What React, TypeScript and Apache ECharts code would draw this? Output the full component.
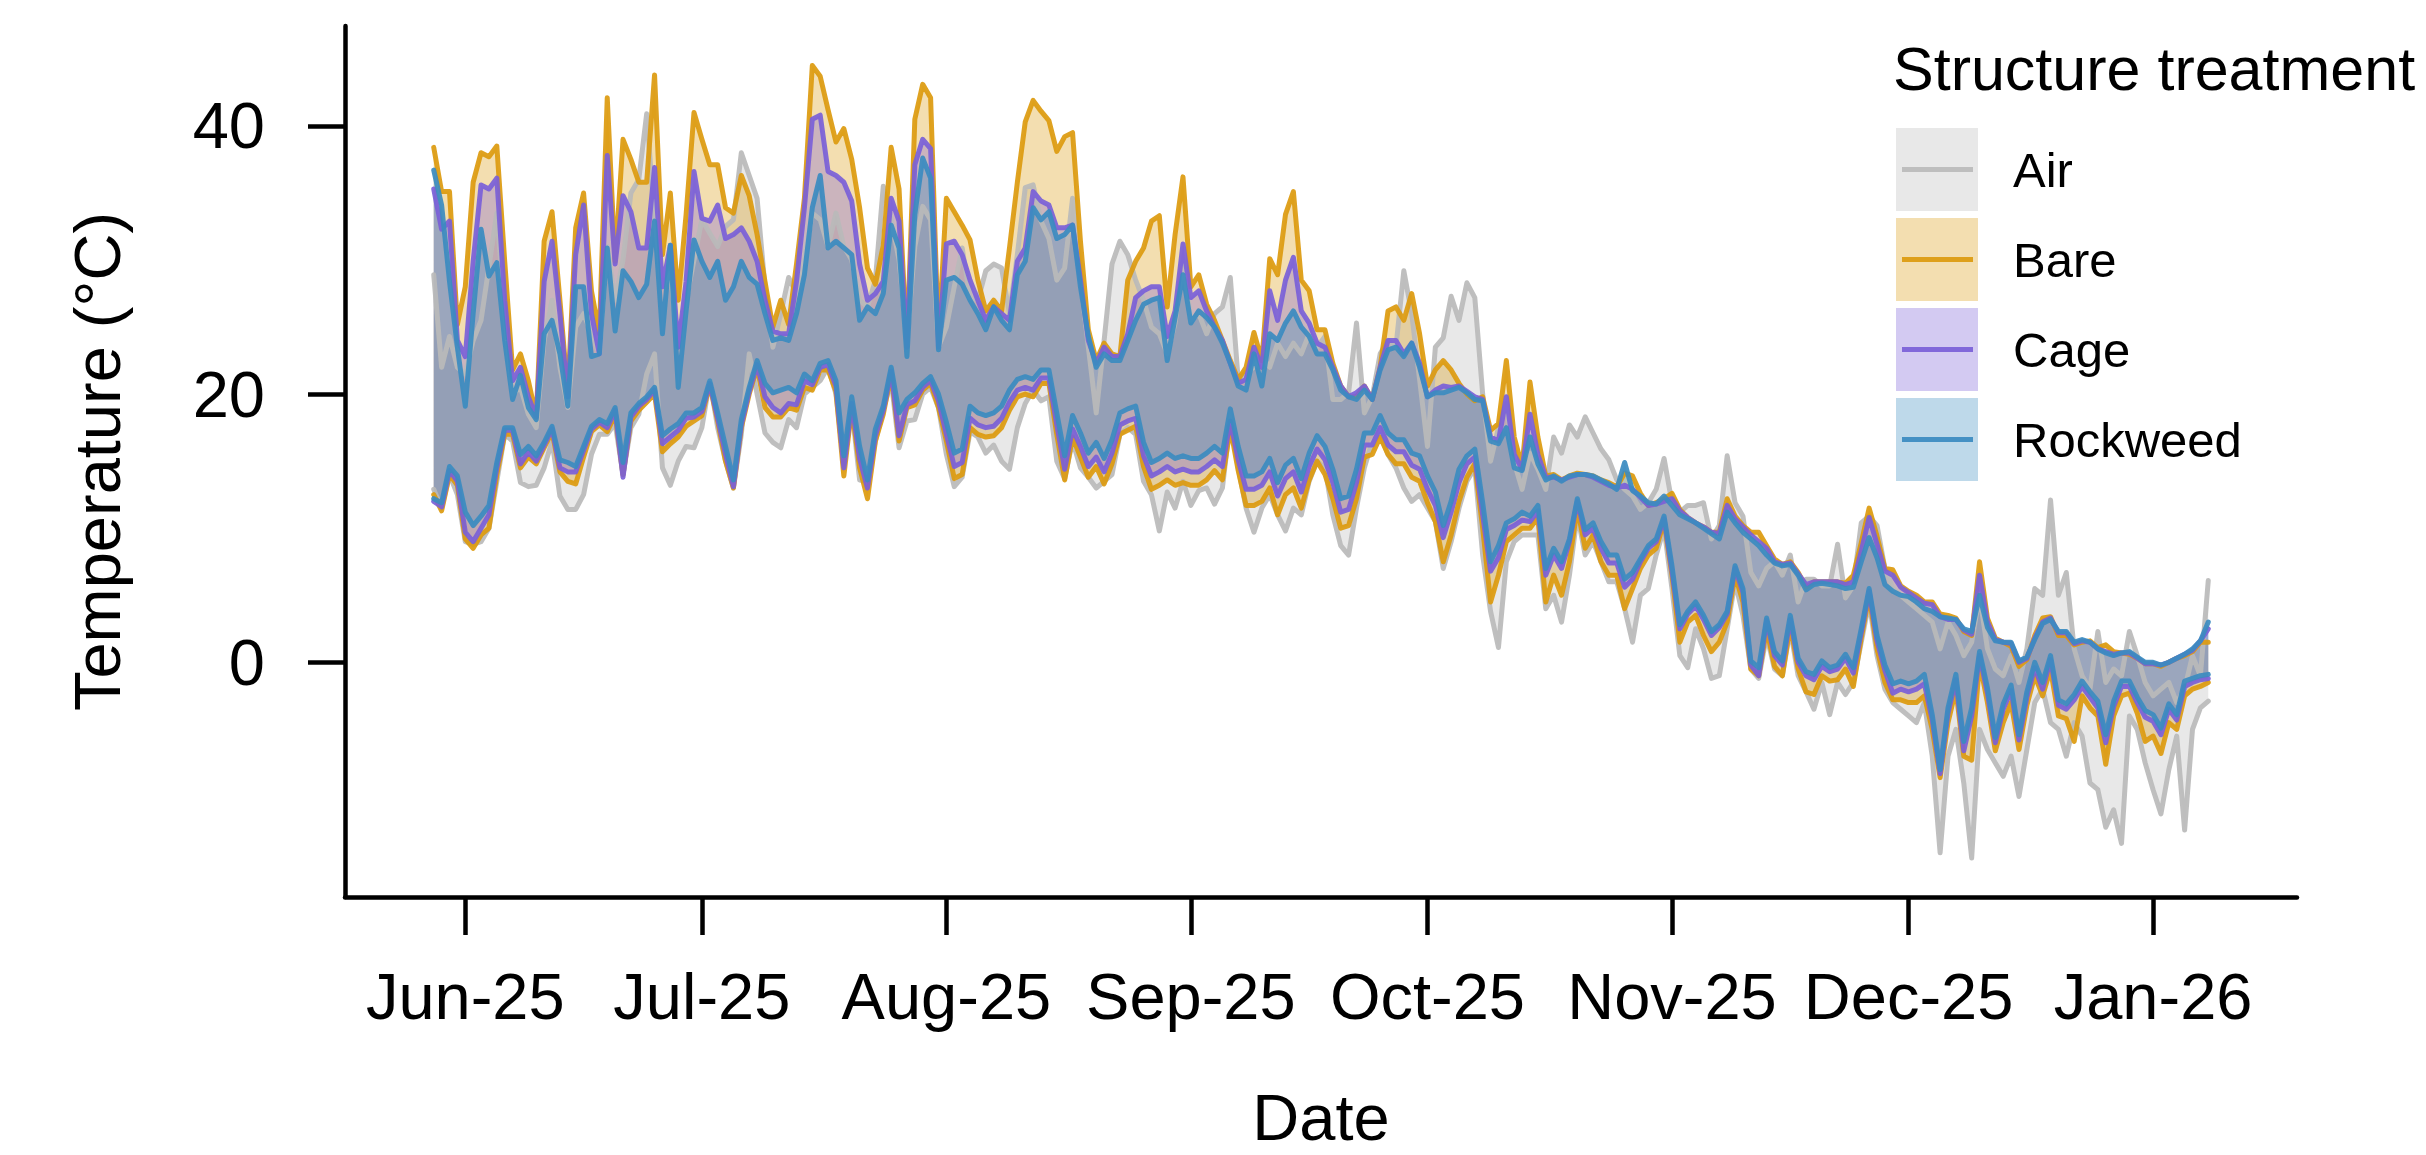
import React, { useEffect, useRef } from 'react';
import * as echarts from 'echarts';

// ---------- data ----------
const START_YEAR = 2025;
const START_MONTH = 4; // May (0-based)
const START_DAY = 28; // first daily record: 2025-05-28 (226 days)

const MONTH_TICKS = ['2025-06-01', '2025-07-01', '2025-08-01', '2025-09-01', '2025-10-01', '2025-11-01', '2025-12-01', '2026-01-01'];
const MONTH_LABELS = ['Jun-25', 'Jul-25', 'Aug-25', 'Sep-25', 'Oct-25', 'Nov-25', 'Dec-25', 'Jan-26'];
const Y_TICKS = [0, 20, 40];
const TREATMENTS = ['Air', 'Bare', 'Cage', 'Rockweed'];

const AIR_MAX = [
  28.9, 22.0, 24.3, 22.0, 21.5, 24.0, 25.5, 29.5, 33.5, 26.0,
  20.0, 20.5, 18.5, 17.5, 24.0, 27.0, 22.0, 19.0, 25.0, 26.0,
  24.5, 23.0, 31.0, 27.0, 30.0, 35.0, 36.0, 40.9, 33.0, 28.0,
  29.0, 24.0, 27.0, 30.0, 33.0, 32.0, 31.0, 32.5, 33.0, 38.0,
  36.3, 34.6, 28.0, 23.5, 26.0, 28.7, 27.5, 30.0, 33.5, 33.0,
  31.0, 33.5, 31.0, 30.0, 27.0, 26.5, 28.5, 35.5, 33.0, 30.0,
  24.0, 31.0, 34.0, 33.0, 23.5, 25.0, 28.0, 30.9, 27.2, 27.0,
  29.2, 29.7, 29.4, 26.0, 30.4, 35.4, 35.6, 32.9, 31.6, 28.5,
  29.4, 34.6, 28.5, 23.5, 18.6, 24.0, 29.7, 31.4, 30.4, 28.5,
  27.0, 25.0, 24.5, 23.0, 25.3, 29.9, 25.5, 26.0, 24.5, 26.0,
  26.5, 28.7, 21.1, 21.6, 22.0, 22.8, 22.0, 23.8, 22.8, 23.8,
  23.0, 24.5, 23.5, 24.3, 19.6, 19.6, 20.1, 25.3, 18.6, 19.8,
  23.0, 24.0, 23.5, 29.2, 26.0, 21.1, 16.1, 23.5, 24.2, 27.3,
  25.5, 28.3, 27.2, 20.0, 15.0, 17.5, 19.3, 14.9, 12.9, 15.6,
  14.4, 12.9, 16.8, 15.6, 17.7, 16.8, 18.3, 17.1, 15.9, 15.1,
  13.6, 12.9, 12.4, 11.4, 11.9, 12.9, 15.2, 11.9, 11.2, 11.7,
  11.7, 11.9, 9.2, 10.2, 15.4, 11.9, 10.9, 6.7, 5.7, 7.0,
  7.5, 6.5, 8.0, 4.5, 6.2, 6.2, 5.7, 5.7, 8.8, 4.8,
  5.7, 10.4, 10.9, 10.2, 7.0, 5.5, 5.0, 4.5, 4.0, 3.5,
  3.0, 1.0, 3.0, 2.0, 0.5, 1.5, 5.0, 1.0, -0.5, -1.0,
  0.5, -1.5, 1.0, 5.5, 5.0, 12.1, 5.0, 6.7, 1.0, -1.0,
  -2.0, 2.3, -1.5, -0.5, -1.0, 2.3, 0.5, -1.5, -2.5, -2.0,
  -1.5, -3.0, -2.0, 0.5, -1.0, 6.1,
];
const AIR_MIN = [
  12.9, 11.5, 14.0, 12.5, 9.0, 8.8, 9.0, 10.0, 13.5, 17.0,
  16.5, 13.4, 13.1, 13.2, 14.5, 16.5, 12.4, 11.4, 11.4, 12.5,
  15.5, 17.0, 17.0, 17.8, 14.0, 17.5, 18.5, 21.5, 23.0, 14.5,
  13.2, 15.0, 16.1, 16.0, 17.5, 21.0, 17.5, 15.0, 13.0, 17.0,
  23.0, 20.0, 17.1, 16.4, 16.0, 18.1, 17.5, 20.0, 20.5, 21.0,
  22.0, 20.0, 14.8, 19.0, 13.6, 13.5, 16.5, 18.8, 21.0, 16.0,
  18.0, 18.1, 20.0, 20.5, 19.0, 15.5, 13.1, 13.8, 17.2, 16.8,
  15.6, 16.2, 15.0, 14.4, 17.5, 19.3, 20.3, 19.5, 19.8, 15.0,
  13.7, 16.5, 14.5, 13.8, 13.0, 13.5, 14.0, 17.0, 17.5, 17.0,
  13.5, 12.5, 9.8, 12.7, 11.5, 13.5, 11.7, 12.8, 13.0, 11.8,
  13.0, 18.0, 14.5, 11.5, 9.7, 11.5, 12.5, 11.0, 9.8, 11.5,
  11.0, 13.5, 15.0, 14.5, 11.0, 8.7, 8.0, 11.5, 14.5, 16.5,
  17.0, 15.5, 14.5, 13.0, 12.0, 12.5, 11.5, 10.5, 7.0, 9.0,
  11.5, 13.5, 14.5, 8.0, 3.8, 1.1, 7.5, 9.0, 9.5, 9.5,
  9.5, 4.0, 5.0, 3.0, 6.5, 11.0, 8.0, 9.0, 7.5, 6.0,
  6.0, 4.0, 1.5, 5.0, 5.5, 8.0, 10.0, 5.5, 0.5, -0.4,
  2.5, 1.0, -1.2, -1.0, 2.5, 6.0, 3.5, -0.5, -1.2, 2.0,
  -0.5, -1.0, 2.5, -1.0, -2.2, -3.5, -1.5, -3.9, -1.5, -2.4,
  -1.5, 1.5, 4.5, 0.5, -2.0, -3.0, -3.5, -4.0, -4.5, -3.0,
  -7.0, -14.2, -7.0, -5.0, -9.0, -14.6, -5.0, -6.5, -7.5, -8.5,
  -7.0, -10.0, -6.5, -3.0, -2.0, -4.5, -5.0, -7.0, -4.5, -5.5,
  -9.0, -9.5, -12.3, -11.0, -13.5, -4.0, -5.0, -7.5, -9.5, -11.3,
  -8.0, -5.5, -12.5, -5.0, -3.4, -2.9,
];
const BARE_MAX = [
  38.4, 35.1, 35.1, 25.2, 28.0, 35.8, 38.0, 37.7, 38.5, 29.9,
  21.8, 23.0, 21.0, 18.3, 31.4, 33.6, 27.0, 20.1, 32.4, 35.0,
  27.7, 24.5, 42.1, 29.9, 39.0, 37.5, 35.8, 35.8, 43.8, 30.4,
  35.0, 27.0, 33.4, 41.0, 39.0, 37.1, 37.1, 33.9, 33.5, 36.3,
  34.8, 31.9, 28.4, 25.0, 27.0, 25.2, 29.7, 34.6, 44.5, 43.7,
  41.2, 38.8, 39.8, 37.5, 33.9, 29.4, 28.2, 31.1, 38.4, 35.3,
  23.5, 40.5, 43.1, 42.1, 24.0, 34.6, 33.6, 32.6, 31.5, 28.5,
  26.2, 27.0, 26.2, 30.9, 35.8, 40.3, 41.9, 41.1, 40.4, 38.1,
  39.2, 39.5, 31.4, 24.8, 22.5, 23.8, 23.0, 22.8, 28.5, 29.9,
  30.9, 32.9, 33.3, 26.5, 31.9, 36.2, 28.0, 28.9, 26.7, 25.5,
  24.0, 22.5, 21.1, 22.0, 24.6, 22.5, 30.1, 28.9, 33.4, 35.1,
  28.5, 27.7, 24.8, 24.8, 22.3, 20.6, 19.8, 19.8, 20.6, 19.6,
  22.0, 26.2, 26.5, 25.5, 27.5, 24.5, 20.6, 21.8, 22.5, 21.8,
  20.8, 20.0, 19.5, 19.8, 17.3, 17.8, 22.5, 16.8, 14.6, 20.9,
  16.8, 13.9, 14.0, 13.6, 13.9, 14.1, 14.0, 13.9, 13.6, 13.4,
  13.1, 14.1, 13.9, 12.6, 11.7, 11.9, 12.2, 12.6, 11.4, 10.8,
  10.4, 10.1, 9.7, 9.7, 12.2, 10.9, 10.2, 9.7, 9.7, 8.7,
  7.7, 7.3, 7.5, 6.7, 5.6, 6.0, 6.0, 6.0, 6.0, 5.9,
  6.5, 8.9, 11.5, 9.4, 7.0, 6.9, 5.7, 5.3, 5.0, 4.5,
  4.5, 3.6, 3.5, 3.3, 2.3, 2.0, 7.5, 3.3, 1.8, 1.5,
  1.2, -0.3, 0.2, 2.0, 3.3, 3.4, 2.0, 2.0, 1.3, 1.5,
  1.6, 1.1, 1.3, 0.8, 0.7, 0.6, 0.3, -0.1, -0.1, -0.3,
  0.0, 0.3, 0.5, 0.8, 1.5, 1.5,
];
const BARE_MIN = [
  12.5, 11.3, 14.0, 13.2, 9.2, 8.5, 9.5, 10.0, 14.0, 17.0,
  17.0, 14.5, 15.3, 14.8, 16.0, 17.2, 14.2, 13.5, 13.3, 15.3,
  17.2, 17.7, 17.2, 18.5, 14.0, 18.0, 18.8, 19.4, 20.0, 15.7,
  16.3, 16.8, 17.6, 18.0, 18.4, 20.7, 18.0, 15.0, 13.0, 17.5,
  20.0, 22.0, 19.0, 18.3, 18.3, 19.0, 18.8, 20.5, 20.3, 21.8,
  21.8, 20.2, 13.9, 19.0, 14.5, 12.2, 16.5, 18.5, 21.5, 16.5,
  19.0, 19.2, 20.3, 20.8, 19.0, 16.5, 13.7, 14.0, 17.5, 17.0,
  16.8, 16.9, 17.5, 18.8, 19.8, 20.0, 19.8, 20.8, 20.8, 17.0,
  13.6, 16.8, 15.3, 13.8, 14.6, 13.3, 14.8, 17.0, 17.3, 17.6,
  14.6, 12.9, 13.2, 13.6, 13.2, 13.4, 13.2, 13.2, 13.6, 14.3,
  13.6, 17.5, 14.3, 11.7, 11.7, 12.0, 13.0, 11.0, 12.5, 13.0,
  11.5, 13.6, 15.0, 14.0, 12.2, 10.0, 10.2, 12.2, 15.3, 15.5,
  16.8, 15.5, 14.8, 14.8, 13.8, 13.5, 11.9, 10.5, 7.5, 9.5,
  12.0, 13.8, 14.8, 10.0, 4.5, 6.5, 9.0, 9.5, 10.0, 10.0,
  10.8, 4.5, 6.5, 5.0, 7.5, 11.5, 8.5, 9.5, 7.5, 6.5,
  6.5, 4.0, 5.5, 7.0, 8.0, 8.5, 10.5, 6.5, 1.5, 3.0,
  3.5, 2.0, 0.8, 1.5, 3.0, 6.5, 4.5, -0.5, -1.0, 2.5,
  -0.3, -1.0, 2.8, -0.5, -2.2, -2.4, -1.0, -1.4, -1.3, -0.5,
  -1.8, 1.8, 5.0, 1.0, -1.5, -2.8, -2.8, -3.0, -3.0, -2.5,
  -5.0, -8.6, -4.5, -2.0, -7.0, -7.3, 0.0, -3.0, -6.6, -4.5,
  -3.0, -6.5, -3.2, -1.0, -2.5, -0.5, -4.0, -4.2, -5.9, -2.5,
  -3.4, -4.0, -7.6, -4.0, -2.5, -2.3, -3.8, -5.9, -5.5, -6.8,
  -4.5, -5.0, -2.5, -2.0, -1.8, -1.5,
];
const CAGE_MAX = [
  35.3, 32.3, 32.9, 24.0, 22.8, 29.9, 35.6, 35.3, 36.1, 27.0,
  21.0, 22.0, 19.8, 18.3, 28.4, 31.4, 26.0, 19.8, 30.4, 34.1,
  26.0, 23.0, 37.8, 29.7, 34.8, 33.6, 30.9, 30.9, 36.9, 28.0,
  31.1, 23.5, 28.4, 36.6, 33.1, 32.9, 34.1, 31.6, 31.9, 32.4,
  31.4, 29.9, 27.0, 24.7, 24.5, 24.5, 28.4, 33.9, 40.5, 40.8,
  36.6, 36.3, 35.8, 34.4, 29.7, 27.0, 27.5, 28.4, 34.6, 32.9,
  23.5, 37.1, 39.0, 38.3, 23.5, 31.2, 31.4, 30.4, 28.5, 27.0,
  25.5, 26.5, 26.0, 25.5, 29.9, 30.9, 35.1, 34.4, 34.1, 32.4,
  32.4, 32.6, 28.5, 24.0, 22.3, 23.5, 22.8, 22.8, 24.5, 27.2,
  27.7, 28.0, 28.0, 24.3, 26.2, 31.2, 27.2, 27.7, 26.2, 25.0,
  24.0, 22.3, 20.8, 21.1, 23.5, 22.0, 27.7, 25.5, 28.5, 30.2,
  26.2, 25.3, 23.8, 23.5, 22.0, 20.6, 19.8, 20.1, 20.6, 19.6,
  22.0, 24.0, 24.0, 23.0, 23.8, 22.3, 19.8, 20.3, 20.6, 20.5,
  20.6, 20.2, 19.8, 19.6, 16.8, 16.5, 19.8, 15.5, 14.4, 18.5,
  15.5, 13.8, 13.8, 13.6, 13.8, 14.0, 14.0, 13.8, 13.5, 13.2,
  13.0, 13.2, 12.9, 12.3, 11.7, 11.8, 12.0, 12.2, 11.3, 10.8,
  10.4, 10.1, 9.7, 9.6, 11.7, 10.7, 10.1, 9.5, 9.0, 8.5,
  7.5, 7.3, 7.4, 6.6, 5.8, 6.0, 6.0, 6.0, 6.0, 5.8,
  6.0, 8.3, 10.8, 8.8, 6.8, 6.5, 5.6, 5.2, 4.8, 4.4,
  4.3, 3.4, 3.2, 3.2, 2.4, 2.1, 6.5, 3.0, 1.7, 1.5,
  1.4, 0.0, 0.3, 1.8, 3.0, 3.3, 2.2, 2.2, 1.4, 1.6,
  1.5, 1.0, 0.8, 0.6, 0.7, 0.7, 0.3, -0.1, -0.1, -0.2,
  0.0, 0.3, 0.6, 0.9, 1.6, 2.5,
];
const CAGE_MIN = [
  12.0, 11.6, 14.3, 13.5, 9.7, 9.0, 10.0, 11.0, 14.5, 17.3,
  17.3, 14.8, 15.7, 15.0, 16.2, 17.4, 14.5, 14.2, 14.2, 15.8,
  17.4, 17.9, 17.5, 18.8, 13.8, 18.3, 19.1, 19.6, 20.3, 16.3,
  16.8, 17.3, 18.2, 18.3, 18.7, 20.8, 18.2, 15.5, 13.1, 17.7,
  20.2, 22.2, 19.8, 19.0, 18.6, 19.3, 19.2, 21.0, 20.7, 22.0,
  22.2, 20.6, 14.5, 19.3, 15.2, 13.0, 16.9, 18.8, 21.7, 16.9,
  19.2, 19.5, 20.5, 21.0, 19.5, 17.0, 14.6, 14.9, 18.2, 17.7,
  17.5, 17.6, 18.2, 19.4, 20.3, 20.5, 20.3, 21.2, 21.2, 17.7,
  14.4, 17.4, 16.1, 14.6, 15.3, 14.2, 15.6, 17.7, 18.0, 18.2,
  15.4, 13.9, 14.2, 14.6, 14.2, 14.4, 14.2, 14.2, 14.6, 15.1,
  14.6, 18.0, 15.1, 12.9, 12.9, 13.2, 14.2, 12.4, 13.7, 14.2,
  12.7, 14.6, 15.9, 15.1, 13.4, 11.2, 11.4, 13.4, 16.2, 16.2,
  17.5, 16.2, 15.7, 15.7, 14.7, 14.4, 12.9, 11.7, 9.3, 11.2,
  13.4, 14.8, 15.3, 11.0, 6.8, 7.8, 9.9, 10.2, 10.6, 10.5,
  11.3, 6.5, 8.0, 7.0, 9.0, 12.0, 9.5, 10.0, 8.5, 7.4,
  7.4, 5.6, 6.2, 7.5, 8.5, 9.0, 10.7, 6.8, 2.5, 3.6,
  4.2, 3.2, 2.0, 2.6, 3.6, 7.0, 5.2, -0.2, -1.0, 3.1,
  0.5, -0.2, 3.2, 0.0, -1.0, -1.3, -0.3, -0.7, -0.5, 0.3,
  -0.8, 2.2, 5.3, 1.6, -0.6, -2.3, -2.0, -2.2, -2.0, -1.6,
  -4.3, -8.3, -3.8, -1.3, -6.6, -4.0, 0.5, -2.3, -6.0, -3.5,
  -2.1, -5.8, -2.6, -0.4, -2.0, 0.2, -3.2, -3.5, -2.8, -1.8,
  -2.6, -3.4, -6.0, -3.3, -1.8, -1.8, -3.0, -4.1, -4.4, -5.4,
  -3.5, -4.3, -1.8, -1.5, -1.3, -1.2,
];
const ROCKWEED_MAX = [
  36.7, 34.1, 28.4, 23.5, 19.1, 26.0, 32.3, 28.8, 29.8, 24.0,
  19.6, 21.4, 19.0, 18.1, 24.5, 25.5, 23.0, 19.1, 28.0, 28.0,
  22.8, 23.0, 30.9, 24.7, 29.2, 28.4, 27.2, 28.2, 32.9, 24.5,
  31.1, 20.5, 26.2, 31.5, 29.9, 28.7, 29.9, 27.0, 28.0, 29.9,
  28.7, 28.2, 26.0, 24.0, 24.2, 24.0, 26.0, 28.9, 33.9, 36.3,
  30.9, 31.4, 30.9, 30.4, 25.5, 26.5, 26.0, 27.5, 32.6, 30.9,
  22.8, 33.4, 37.6, 36.1, 23.3, 28.5, 28.7, 28.2, 27.0, 26.0,
  24.8, 26.5, 25.5, 24.8, 28.9, 29.9, 33.9, 33.0, 33.6, 31.6,
  31.9, 32.6, 28.0, 24.3, 22.0, 23.0, 22.5, 22.5, 24.0, 25.5,
  26.7, 27.0, 27.2, 22.5, 25.7, 28.9, 25.3, 26.2, 25.7, 25.0,
  23.8, 22.3, 20.6, 20.3, 23.0, 20.6, 24.5, 24.0, 25.3, 26.2,
  25.0, 24.3, 23.0, 23.0, 21.8, 20.3, 19.8, 19.6, 20.3, 19.6,
  21.8, 23.3, 23.5, 22.8, 23.8, 22.0, 19.8, 20.1, 20.1, 20.3,
  20.5, 20.1, 19.6, 19.5, 16.5, 16.3, 17.5, 14.5, 14.3, 16.8,
  14.8, 13.6, 13.9, 13.5, 13.9, 14.0, 14.0, 13.9, 13.6, 13.3,
  12.9, 14.9, 12.8, 12.4, 11.9, 11.8, 12.4, 11.7, 11.0, 10.7,
  10.4, 10.0, 9.6, 9.2, 11.2, 10.4, 9.7, 9.2, 8.7, 8.0,
  7.4, 7.2, 7.3, 6.5, 5.4, 5.8, 5.9, 5.8, 5.7, 5.5,
  5.6, 7.5, 9.3, 7.8, 5.8, 5.3, 5.0, 4.9, 4.5, 4.0,
  3.8, 3.4, 3.3, 3.2, 2.5, 2.3, 5.0, 2.6, 1.6, 1.5,
  1.5, 0.1, 0.4, 1.7, 2.9, 3.2, 2.3, 2.3, 1.5, 1.7,
  1.5, 1.0, 0.7, 0.5, 0.7, 0.8, 0.4, 0.0, 0.0, -0.2,
  0.0, 0.3, 0.6, 1.0, 1.6, 3.0,
];
const ROCKWEED_MIN = [
  12.2, 11.9, 14.6, 13.9, 11.2, 10.2, 10.9, 11.7, 14.9, 17.5,
  17.5, 15.5, 16.1, 15.4, 16.4, 17.6, 15.1, 14.9, 14.6, 16.1,
  17.6, 18.1, 17.8, 19.0, 14.9, 18.6, 19.3, 19.8, 20.5, 16.9,
  17.4, 17.8, 18.6, 18.6, 19.0, 21.0, 18.6, 16.1, 13.6, 18.1,
  20.5, 22.5, 20.8, 20.1, 20.3, 20.5, 20.1, 21.5, 21.0, 22.3,
  22.5, 21.0, 15.4, 19.8, 16.1, 13.6, 17.4, 19.1, 22.0, 18.6,
  19.6, 20.1, 20.8, 21.3, 20.0, 17.9, 15.6, 15.9, 19.1, 18.6,
  18.4, 18.6, 19.1, 20.3, 21.1, 21.3, 21.1, 21.8, 21.8, 18.6,
  15.4, 18.4, 17.1, 15.6, 16.4, 15.2, 16.6, 18.6, 18.9, 19.1,
  16.4, 14.9, 15.2, 15.6, 15.2, 15.4, 15.2, 15.2, 15.6, 16.1,
  15.6, 18.9, 16.1, 13.9, 13.9, 14.2, 15.2, 13.4, 14.7, 15.2,
  13.7, 15.6, 16.9, 16.1, 14.4, 12.2, 12.4, 14.4, 17.1, 17.1,
  18.4, 17.1, 16.6, 16.6, 15.6, 15.4, 13.9, 12.7, 10.2, 12.0,
  14.4, 15.4, 15.9, 11.9, 7.5, 8.7, 10.4, 10.7, 11.2, 10.9,
  11.7, 7.0, 8.5, 7.5, 9.2, 12.2, 9.9, 10.4, 9.0, 8.0,
  8.0, 6.2, 6.7, 7.7, 8.7, 9.2, 10.9, 7.2, 2.8, 3.8,
  4.5, 3.5, 2.3, 2.8, 3.8, 7.2, 5.5, 0.1, -0.4, 3.3,
  0.8, 0.1, 3.5, 0.3, -0.7, -0.9, 0.1, -0.4, -0.2, 0.6,
  -0.4, 2.5, 5.5, 2.0, -0.2, -1.6, -1.4, -1.6, -1.4, -0.9,
  -3.9, -8.0, -3.4, -0.9, -5.9, -3.4, 0.8, -1.9, -5.6, -3.1,
  -1.7, -5.4, -2.2, 0.0, -1.5, 0.5, -2.8, -3.1, -2.4, -1.4,
  -2.2, -2.9, -5.4, -2.9, -1.4, -1.4, -2.6, -3.6, -3.9, -4.9,
  -3.1, -3.9, -1.4, -1.2, -1.0, -0.9,
];

const COLORS = ['#bababa', '#dc9a0e', '#7a5fd8', '#3b8bc0'];
const MAXES = [AIR_MAX, BARE_MAX, CAGE_MAX, ROCKWEED_MAX];
const MINS = [AIR_MIN, BARE_MIN, CAGE_MIN, ROCKWEED_MIN];

// ---------- styling ----------
const FONT = '"Liberation Sans", Arial, Helvetica, sans-serif';
const FILL_ALPHA = 0.33;
const LINE_ALPHA = 0.92;
const LINE_W = 5;
const DAY_MS = 86400000;
const PAD_DAYS = 11.25;

function hexToRgba(hex: string, a: number) {
  const n = parseInt(hex.slice(1), 16);
  return `rgba(${(n >> 16) & 255},${(n >> 8) & 255},${n & 255},${a})`;
}

function dayTime(i: number) {
  return Date.UTC(START_YEAR, START_MONTH, START_DAY + i);
}

function isoTime(s: string) {
  const [y, m, d] = s.split('-').map(Number);
  return Date.UTC(y, m - 1, d);
}

function buildOption() {
  const n = AIR_MAX.length;
  const tickTimes = MONTH_TICKS.map(isoTime);
  const xMin = dayTime(0) - PAD_DAYS * DAY_MS;
  const xMax = dayTime(n - 1) + PAD_DAYS * DAY_MS;

  const series: any[] = [];
  TREATMENTS.forEach((name, k) => {
    const color = COLORS[k];
    const mins = MINS[k];
    const maxs = MAXES[k];
    const fill = hexToRgba(color, FILL_ALPHA);
    // band between min and max (filled polygon through the axis scales)
    series.push({
      name: name + ' range',
      type: 'custom',
      silent: true,
      data: [[dayTime(0), mins[0]]],
      encode: { x: 0, y: 1 },
      renderItem: (params: any, api: any) => {
        if (params.dataIndex !== 0) return null;
        const pts: number[][] = [];
        for (let i = 0; i < maxs.length; i++) pts.push(api.coord([dayTime(i), maxs[i]]));
        for (let i = mins.length - 1; i >= 0; i--) pts.push(api.coord([dayTime(i), mins[i]]));
        return { type: 'polygon', shape: { points: pts }, style: { fill, stroke: 'none' } };
      },
    });
    const lineStyle = { color, width: LINE_W, opacity: LINE_ALPHA, join: 'round', cap: 'round' };
    series.push({
      name: name + ' max',
      type: 'line',
      data: maxs.map((v, i) => [dayTime(i), v]),
      symbol: 'none',
      lineStyle,
      itemStyle: { color },
      silent: true,
      emphasis: { disabled: true },
    });
    series.push({
      name: name + ' min',
      type: 'line',
      data: mins.map((v, i) => [dayTime(i), v]),
      symbol: 'none',
      lineStyle,
      itemStyle: { color },
      silent: true,
      emphasis: { disabled: true },
    });
  });

  const axisColor = '#000';
  const legendX = 1896;
  const legendTop = 128;
  const legendPitch = 90;
  const patchW = 82;
  const patchH = 83;
  const graphic: any[] = [
    {
      type: 'text',
      x: 1893,
      y: 69,
      style: { text: 'Structure treatment', font: `61px ${FONT}`, fill: '#000', align: 'left', verticalAlign: 'middle' },
    },
  ];
  TREATMENTS.forEach((name, k) => {
    const y0 = legendTop + k * legendPitch;
    const cy = y0 + patchH / 2;
    graphic.push({
      type: 'rect',
      shape: { x: legendX, y: y0, width: patchW, height: patchH },
      style: { fill: hexToRgba(COLORS[k], FILL_ALPHA) },
    });
    graphic.push({
      type: 'line',
      shape: { x1: legendX + 6, y1: cy, x2: legendX + patchW - 5, y2: cy },
      style: { stroke: COLORS[k], lineWidth: 5, opacity: LINE_ALPHA },
    });
    graphic.push({
      type: 'text',
      x: 2013,
      y: cy,
      style: { text: name, font: `49px ${FONT}`, fill: '#000', align: 'left', verticalAlign: 'middle' },
    });
  });

  return {
    animation: false,
    backgroundColor: '#ffffff',
    textStyle: { fontFamily: FONT },
    grid: { left: 345, right: 129, top: 26, bottom: 251, containLabel: false },
    xAxis: {
      type: 'value',
      min: xMin,
      max: xMax,
      scale: true,
      name: 'Date',
      nameLocation: 'middle',
      nameGap: 188,
      nameTextStyle: { fontSize: 65, color: '#000', fontFamily: FONT },
      axisLine: { show: true, onZero: false, lineStyle: { color: axisColor, width: 4.5 } },
      axisTick: { show: true, length: 38, lineStyle: { color: axisColor, width: 4.5 }, customValues: tickTimes },
      axisLabel: {
        show: true,
        customValues: tickTimes,
        fontSize: 65,
        color: '#000',
        fontFamily: FONT,
        margin: 67,
        hideOverlap: false,
        formatter: (v: number) => {
          const idx = tickTimes.findIndex((t) => Math.abs(t - v) < 3600000);
          return idx >= 0 ? MONTH_LABELS[idx] : '';
        },
      },
      splitLine: { show: false },
    },
    yAxis: {
      type: 'value',
      min: -17.5,
      max: 47.45,
      name: 'Temperature (°C)',
      nameLocation: 'middle',
      nameGap: 215,
      nameRotate: 90,
      nameTextStyle: { fontSize: 65, color: '#000', fontFamily: FONT },
      axisLine: { show: true, lineStyle: { color: axisColor, width: 4.5 } },
      axisTick: { show: true, length: 37, lineStyle: { color: axisColor, width: 4.5 }, customValues: Y_TICKS },
      axisLabel: { show: true, customValues: Y_TICKS, fontSize: 65, color: '#000', fontFamily: FONT, margin: 80 },
      splitLine: { show: false },
    },
    series,
    graphic,
  };
}

export default function App() {
  const ref = useRef<HTMLDivElement>(null);
  useEffect(() => {
    if (!ref.current) return;
    const chart = echarts.init(ref.current, null, { renderer: 'svg' });
    chart.setOption(buildOption() as any);
    return () => chart.dispose();
  }, []);
  return (
    <div
      ref={ref}
      style={{ position: 'absolute', left: 0, top: 0, width: 2426, height: 1155, background: '#fff' }}
    />
  );
}
